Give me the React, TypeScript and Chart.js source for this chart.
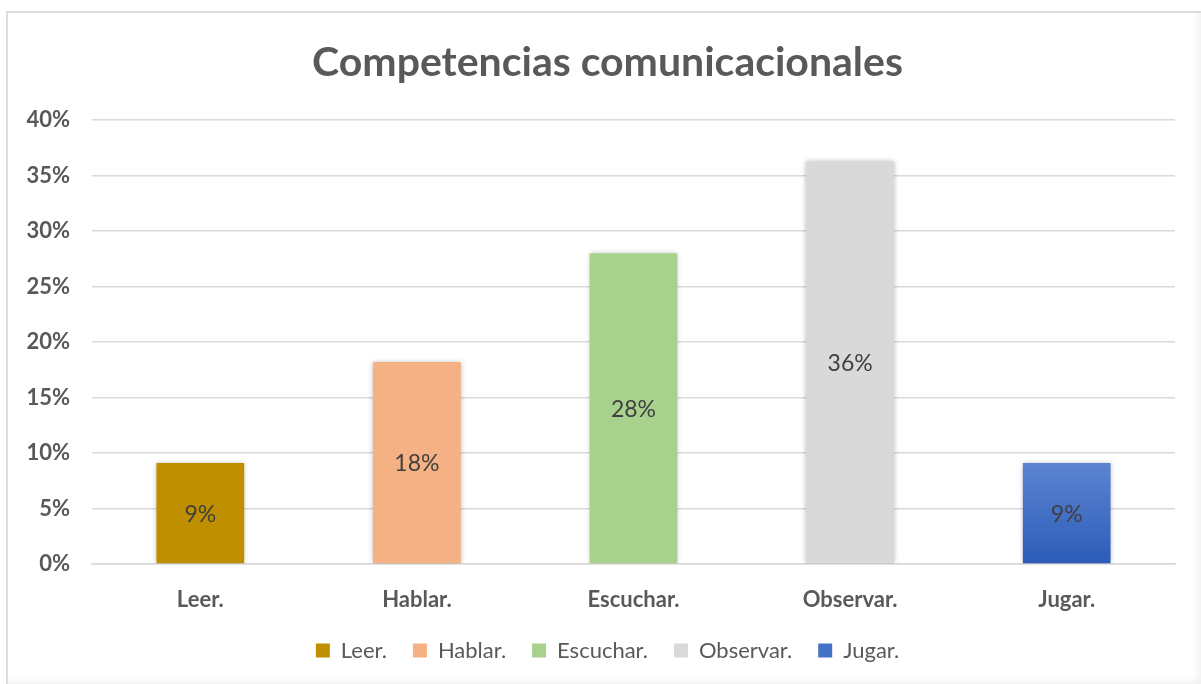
import React, { useEffect, useRef } from "react";
import { Chart, registerables } from "chart.js";

Chart.register(...registerables);

const chartTitle = "Competencias comunicacionales";
const categories = ["Leer.", "Hablar.", "Escuchar.", "Observar.", "Jugar."];
const values = [9.1, 18.2, 28, 36.3, 9.1];
const barColors = ["#BF8F00", "#F4B183", "#A9D18E", "#D9D9D9", "#4472C4"];
const gradientTop = "#5C84D2";
const gradientBottom = "#2C5CB8";
const yMin = 0;
const yMax = 40;
const yStep = 5;

const FONT = "Lato, 'Open Sans', sans-serif";
const TEXT = "#595959";

const shadowPlugin = {
  id: "barShadow",
  beforeDatasetsDraw(chart: any) {
    const ctx = chart.ctx;
    ctx.save();
    ctx.shadowColor = "rgba(0,0,0,0.28)";
    ctx.shadowBlur = 5;
    ctx.shadowOffsetX = 0;
    ctx.shadowOffsetY = 0;
  },
  afterDatasetsDraw(chart: any) {
    chart.ctx.restore();
  },
};

const labelPlugin = {
  id: "valueLabels",
  afterDatasetsDraw(chart: any) {
    const ctx = chart.ctx;
    const meta = chart.getDatasetMeta(0);
    ctx.save();
    ctx.font = `23px ${FONT}`;
    ctx.fillStyle = "#404040";
    ctx.textAlign = "center";
    ctx.textBaseline = "middle";
    meta.data.forEach((bar: any, i: number) => {
      const v = chart.data.datasets[0].data[i];
      const y = (bar.y + bar.base) / 2;
      ctx.fillText(`${Math.round(v)}%`, bar.x, y + 1);
    });
    ctx.restore();
  },
};

export default function App() {
  const ref = useRef<HTMLCanvasElement>(null);

  useEffect(() => {
    if (!ref.current) return;
    const chart = new Chart(ref.current, {
      type: "bar",
      data: {
        labels: categories,
        datasets: [
          {
            data: values,
            backgroundColor: (c: any) => {
              const i = c.dataIndex;
              if (i === 4) {
                const ch = c.chart;
                const ys = ch.scales && ch.scales.y;
                if (!ch.chartArea || !ys) return barColors[i];
                const top = ys.getPixelForValue(values[i]);
                const bottom = ys.getPixelForValue(0);
                const g = ch.ctx.createLinearGradient(0, top, 0, bottom);
                g.addColorStop(0, gradientTop);
                g.addColorStop(1, gradientBottom);
                return g;
              }
              return barColors[i];
            },
            borderWidth: 0,
            barPercentage: 0.405,
            categoryPercentage: 1,
          },
        ],
      },
      options: {
        responsive: false,
        animation: false,
        layout: { padding: { left: 20, right: 6, top: 0, bottom: 12.5 } },
        plugins: {
          title: {
            display: true,
            text: chartTitle,
            color: TEXT,
            font: { family: FONT, size: 41, weight: "bold" },
            padding: { top: 38, bottom: 33 },
          },
          legend: {
            display: true,
            position: "bottom",
            labels: {
              color: TEXT,
              font: { family: FONT, size: 22 },
              boxWidth: 14,
              boxHeight: 14,
              padding: 26,
              generateLabels: () =>
                categories.map((c, i) => ({
                  text: c,
                  fillStyle: barColors[i],
                  strokeStyle: barColors[i],
                  fontColor: TEXT,
                  lineWidth: 0,
                  hidden: false,
                  index: i,
                  datasetIndex: 0,
                })),
            },
            onClick: () => {},
          },
          tooltip: { enabled: false },
        },
        scales: {
          x: {
            grid: { display: false, drawTicks: false },
            border: { display: true, color: "#D9D9D9", width: 1.5 },
            ticks: {
              color: TEXT,
              font: { family: FONT, size: 22, weight: "bold" },
              padding: 23,
            },
            afterFit: (s: any) => {
              s.height = 49.5;
            },
          },
          y: {
            min: yMin,
            max: yMax,
            grid: { color: "#D9D9D9", lineWidth: 1.5, drawTicks: false },
            border: { display: false },
            ticks: {
              stepSize: yStep,
              color: TEXT,
              font: { family: FONT, size: 22, weight: "bold" },
              padding: 22,
              callback: (v: any) => `${v}%`,
            },
            afterFit: (s: any) => {
              s.width = 72;
            },
          },
          ySpacer: {
            type: "linear",
            position: "right",
            min: yMin,
            max: yMax,
            grid: { display: false, drawTicks: false },
            border: { display: false },
            ticks: { display: false },
            afterFit: (s: any) => {
              s.width = 20;
            },
          },
        },
      },
      plugins: [shadowPlugin, labelPlugin],
    });
    return () => chart.destroy();
  }, []);

  return (
    <div style={{ position: "absolute", left: 0, top: 0, width: 1201, height: 684, background: "#fff" }}>
      <div
        style={{
          position: "absolute",
          left: 6,
          top: 11,
          width: 1195,
          height: 673,
          boxSizing: "border-box",
          borderLeft: "2px solid #DCDCDC",
          borderTop: "2px solid #DCDCDC",
          boxShadow: "inset -7px -7px 8px -5px rgba(0,0,0,0.07)",
        }}
      />
      <canvas ref={ref} width={1201} height={684} style={{ position: "absolute", left: 0, top: 0 }} />
    </div>
  );
}
